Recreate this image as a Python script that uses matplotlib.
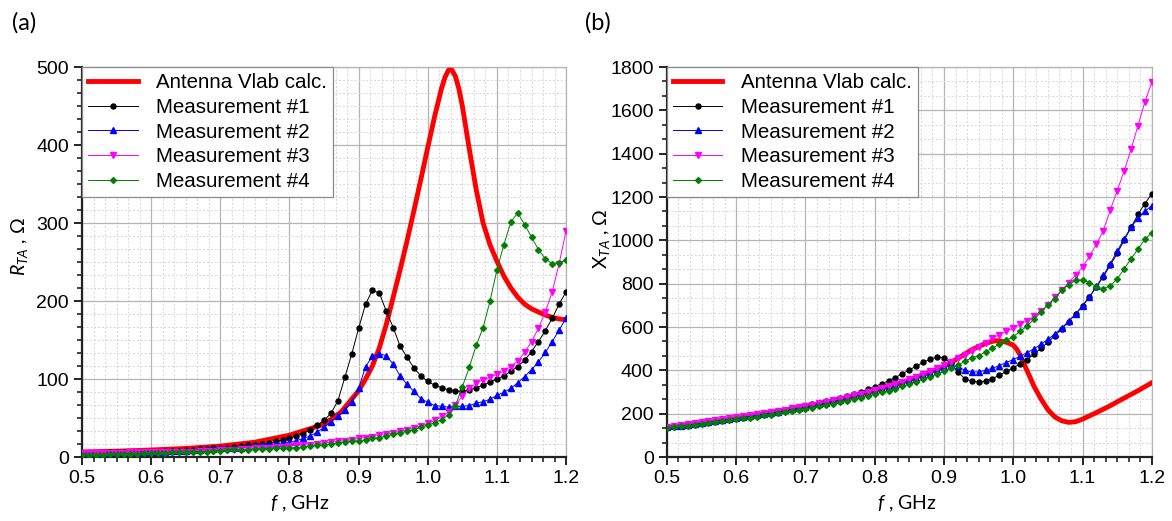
import matplotlib
matplotlib.use("Agg")
import matplotlib.pyplot as plt
import numpy as np
from matplotlib.ticker import MultipleLocator, AutoMinorLocator

plt.rcParams["font.family"] = ["Liberation Sans", "DejaVu Sans"]
plt.rcParams["mathtext.fontset"] = "custom"
plt.rcParams["mathtext.rm"] = "Lato"
plt.rcParams["mathtext.it"] = "Lato:italic"

# measurement frequencies, GHz
freq = np.linspace(0.5, 1.2, 71)

# ---- (a) resistance R_TA ----
calc_f_r = [0.50, 0.55, 0.60, 0.65, 0.70, 0.75, 0.80, 0.85, 0.875, 0.90, 0.91, 0.92,
            0.93, 0.94, 0.95, 0.96, 0.97, 0.98, 0.99, 1.00, 1.01, 1.02, 1.025, 1.03,
            1.035, 1.04, 1.045, 1.05, 1.06, 1.07, 1.08, 1.09, 1.10, 1.11, 1.12, 1.13, 1.14,
            1.15, 1.16, 1.17, 1.18, 1.19, 1.20]
calc_r = [6.5, 7.5, 9, 11, 14, 19, 28, 42, 58, 85, 100, 117,
          140, 170, 205, 240, 277, 316, 356, 397, 437, 473, 487, 496,
          496, 488, 472, 450, 395, 343, 300, 272, 251, 232, 217, 205, 196,
          190, 186, 182, 179, 177, 176]

meas1_r = [5, 5, 5, 5, 6, 6, 6, 6, 7, 7, 7, 7, 8, 8, 8, 9, 9, 10, 10, 11,
           11, 12, 13, 14, 15, 16, 17, 18, 20, 22, 24, 27, 30, 35, 41, 47, 56, 72, 102, 132,
           165, 196, 214, 210, 187, 166, 142, 128, 114, 104, 97, 92, 89, 86, 85, 84, 86, 89, 92, 96,
           100, 104, 110, 116, 124, 135, 148, 162, 178, 196, 212]
meas2_r = [5, 5, 5, 5, 5, 6, 6, 6, 6, 7, 7, 7, 7, 8, 8, 8, 9, 9, 10, 10,
           11, 11, 12, 12, 13, 14, 15, 16, 17, 18, 19, 21, 24, 27, 32, 38, 45, 52, 60, 71,
           88, 116, 129, 132, 130, 119, 104, 93, 84, 75, 70, 66, 65, 64, 65, 65, 66, 69, 71, 74,
           79, 83, 88, 95, 103, 112, 122, 134, 148, 163, 178]
meas3_r = [5, 5, 5, 5, 5, 5, 5, 6, 6, 6, 6, 6, 6, 7, 7, 7, 7, 8, 8, 8,
           9, 9, 9, 10, 10, 11, 11, 12, 13, 13, 14, 15, 15, 16, 17, 18, 19, 20, 21, 22,
           24, 25, 26, 28, 29, 31, 33, 35, 37, 40, 43, 47, 52, 58, 67, 78, 88, 95, 99, 102,
           106, 110, 116, 123, 134, 148, 165, 186, 212, 248, 290]
meas4_r = [3, 3, 3, 3, 4, 4, 4, 4, 4, 5, 5, 5, 5, 6, 6, 6, 7, 7, 7, 8,
           8, 9, 10, 9, 9, 10, 10, 10, 11, 11, 12, 12, 13, 14, 15, 16, 17, 18, 19, 20,
           21, 22, 24, 25, 27, 29, 31, 33, 35, 38, 41, 44, 48, 54, 66, 90, 115, 143, 166, 200,
           240, 272, 301, 313, 298, 282, 266, 254, 248, 249, 252]

# ---- (b) reactance X_TA ----
calc_f_x = [0.50, 0.55, 0.60, 0.65, 0.70, 0.75, 0.80, 0.85, 0.90, 0.92, 0.94, 0.96,
            0.97, 0.975, 0.98, 0.99, 1.00, 1.005, 1.01, 1.02, 1.03, 1.04, 1.05, 1.06,
            1.07, 1.08, 1.09, 1.10, 1.12, 1.14, 1.16, 1.18, 1.20]
calc_x = [133, 155, 178, 203, 232, 266, 306, 355, 418, 455, 495, 524,
          534, 537, 536, 530, 516, 498, 470, 398, 326, 268, 218, 185,
          167, 160, 163, 175, 205, 237, 272, 306, 343]

meas1_x = [138, 142, 146, 151, 155, 159, 163, 168, 172, 177, 181, 186, 191, 196, 201, 206, 212, 218, 224, 230,
           237, 243, 250, 258, 265, 273, 282, 291, 301, 312, 325, 338, 352, 367, 385, 402, 420, 437, 452, 461,
           458, 432, 392, 362, 349, 346, 350, 362, 378, 395, 412, 430, 450, 475, 502, 530, 560, 592, 625, 660,
           698, 740, 785, 833, 885, 940, 1000, 1060, 1120, 1170, 1215]
meas2_x = [137, 141, 145, 149, 154, 158, 162, 166, 171, 175, 180, 184, 189, 194, 199, 204, 209, 215, 220, 226,
           232, 238, 245, 251, 258, 265, 272, 280, 288, 296, 305, 314, 323, 333, 343, 354, 365, 377, 390, 403,
           415, 423, 418, 400, 392, 393, 400, 410, 422, 436, 450, 465, 482, 500, 520, 543, 568, 596, 627, 660,
           697, 740, 787, 838, 893, 950, 1008, 1060, 1102, 1135, 1160]
meas3_x = [140, 144, 148, 152, 157, 161, 165, 170, 174, 179, 183, 188, 193, 198, 203, 208, 213, 219, 224, 230,
           236, 242, 249, 255, 262, 269, 277, 284, 292, 301, 309, 318, 328, 338, 348, 359, 371, 383, 396, 410,
           424, 439, 455, 472, 490, 509, 528, 548, 565, 580, 595, 612, 630, 650, 672, 700, 738, 770, 805, 840,
           877, 927, 982, 1045, 1140, 1230, 1320, 1420, 1530, 1640, 1730]
meas4_x = [133, 137, 141, 145, 149, 153, 157, 161, 165, 169, 174, 178, 182, 187, 192, 196, 201, 206, 212, 217,
           223, 228, 234, 240, 246, 253, 260, 267, 274, 282, 290, 298, 307, 316, 326, 336, 347, 358, 370, 383,
           396, 410, 425, 441, 458, 468, 485, 503, 521, 538, 556, 580, 605, 636, 668, 703, 730, 770, 795, 815,
           818, 805, 785, 777, 790, 822, 868, 915, 960, 1005, 1035]

labels = ["Antenna Vlab calc.", "Measurement #1", "Measurement #2",
          "Measurement #3", "Measurement #4"]
styles = [("black", "o", 3.6), ("blue", "^", 4.2), ("magenta", "v", 4.2), ("green", "D", 3.0)]
label_font = ["Lato", "DejaVu Sans"]


def draw_panel(ax, calc_f, calc_y, meas, ymax, ymajor, yminor_n):
    ax.plot(calc_f, calc_y, color="red", lw=3.5, label=labels[0], zorder=3)
    for vals, (c, m, ms), lab in zip(meas, styles, labels[1:]):
        ax.plot(freq, vals, color=c, lw=0.7, marker=m, ms=ms, mec=c, mfc=c,
                label=lab, zorder=4)
    ax.set_xlim(0.5, 1.2)
    ax.set_ylim(0, ymax)
    ax.xaxis.set_major_locator(MultipleLocator(0.1))
    ax.xaxis.set_minor_locator(AutoMinorLocator(6))
    ax.yaxis.set_major_locator(MultipleLocator(ymajor))
    ax.yaxis.set_minor_locator(AutoMinorLocator(yminor_n))
    ax.xaxis.set_major_formatter(plt.FuncFormatter(lambda v, p: f"{v:.1f}"))
    ax.grid(which="major", color="#b4b4b4", lw=0.9)
    ax.grid(which="minor", color="#d6d6d6", lw=0.7, ls=(0, (2, 2)))
    ax.set_axisbelow(True)
    for s in ("top", "right"):
        ax.spines[s].set_color("#b4b4b4")
        ax.spines[s].set_linewidth(0.9)
    for s in ("left", "bottom"):
        ax.spines[s].set_color("#222222")
        ax.spines[s].set_linewidth(1.6)
    ax.tick_params(which="major", direction="out", length=6, width=1.4,
                   labelsize=14, color="#222222", top=False, right=False)
    ax.tick_params(which="minor", direction="out", length=3.5, width=1.2,
                   color="#222222", top=False, right=False)
    leg = ax.legend(loc="upper left", borderaxespad=0, fontsize=14.8, fancybox=False,
                    framealpha=1, edgecolor="#888888", handlelength=2.4,
                    handletextpad=0.9, labelspacing=0.28, borderpad=0.3)
    leg.get_frame().set_linewidth(0.9)


fig = plt.figure(figsize=(11.72, 5.21), dpi=100)
ax1 = fig.add_axes([0.070, 0.1228, 0.413, 0.7486])
ax2 = fig.add_axes([0.569, 0.1228, 0.4138, 0.7486])

draw_panel(ax1, calc_f_r, calc_r, [meas1_r, meas2_r, meas3_r, meas4_r], 500, 100, 6)
draw_panel(ax2, calc_f_x, calc_x, [meas1_x, meas2_x, meas3_x, meas4_x], 1800, 200, 3)

ax1.set_xlabel("$f$ , GHz", family=label_font, fontsize=14)
ax2.set_xlabel("$f$ , GHz", family=label_font, fontsize=14)
ax1.xaxis.set_label_coords(0.45, -0.095)
ax2.xaxis.set_label_coords(0.495, -0.095)

ax1.set_ylabel("$R_{TA}$ , Ω", family=label_font, fontsize=14)
ax2.set_ylabel("$\\mathrm{X}_{TA}$ , Ω", family=label_font, fontsize=14)
ax1.yaxis.set_label_coords(-0.107, 0.54)
ax2.yaxis.set_label_coords(-0.113, 0.56)

fig.text(0.010, 0.957, "(a)", family=label_font, fontsize=17, va="center")
fig.text(0.499, 0.957, "(b)", family=label_font, fontsize=17, va="center")

fig.savefig("out.png", dpi=100)
